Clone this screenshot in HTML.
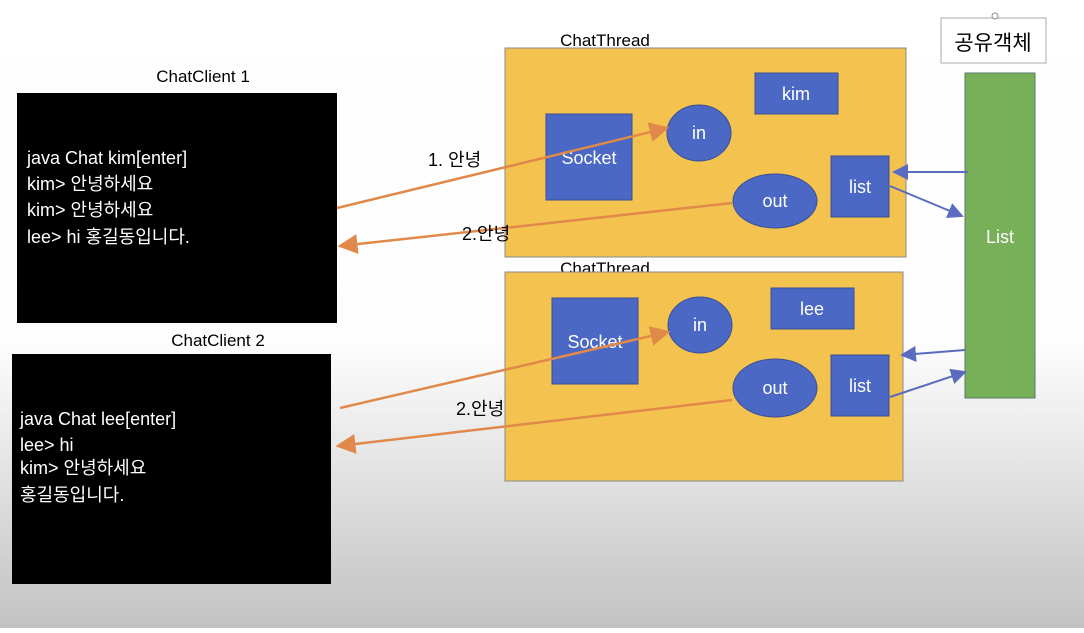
<!DOCTYPE html>
<html><head><meta charset="utf-8"><style>
body{margin:0;width:1084px;height:628px;overflow:hidden}
text{font-family:"Liberation Sans","Noto Sans CJK KR",sans-serif}
</style></head><body>
<svg width="1084" height="628" viewBox="0 0 1084 628">
<defs>
<linearGradient id="bg" x1="0" y1="0" x2="0" y2="1">
<stop offset="0" stop-color="#ffffff"/><stop offset="0.55" stop-color="#fdfdfd"/><stop offset="1" stop-color="#c2c2c2"/></linearGradient>
<marker id="ao" markerWidth="8" markerHeight="8" refX="7" refY="4" orient="auto"><path d="M0,0 L8,4 L0,8 Z" fill="#e0894a"/></marker>
<marker id="ab" markerWidth="8" markerHeight="8" refX="7" refY="4" orient="auto"><path d="M0,0 L8,4 L0,8 Z" fill="#5b6bbf"/></marker>
</defs>
<rect width="1084" height="628" fill="url(#bg)"/>

<g>
<text x="203" y="82" font-size="17" text-anchor="middle" fill="#000">ChatClient 1</text>
<rect x="17" y="93" width="320" height="230" fill="#000"/>
<g fill="#fff" font-size="18">
<text x="27" y="164">java Chat kim[enter]</text>
<text x="27" y="190">kim&gt; 안녕하세요</text>
<text x="27" y="216">kim&gt; 안녕하세요</text>
<text x="27" y="243">lee&gt; hi 홍길동입니다.</text>
</g></g>

<g>
<text x="218" y="346" font-size="17" text-anchor="middle" fill="#000">ChatClient 2</text>
<rect x="12" y="354" width="319" height="230" fill="#000"/>
<g fill="#fff" font-size="18">
<text x="20" y="425">java Chat lee[enter]</text>
<text x="20" y="451">lee&gt; hi</text>
<text x="20" y="474">kim&gt; 안녕하세요</text>
<text x="20" y="501">홍길동입니다.</text>
</g></g>

<g>
<text x="605" y="46" font-size="17" text-anchor="middle">ChatThread</text>
<rect x="505" y="48" width="401" height="209" fill="#f4c24f" stroke="#8a8a8a"/>
<rect x="546" y="114" width="86" height="86" fill="#4a68c4" stroke="#3a4f95"/>
<text x="589" y="164" font-size="18" fill="#fff" text-anchor="middle">Socket</text>
<ellipse cx="699" cy="133" rx="32" ry="28" fill="#4a68c4" stroke="#3a4f95"/>
<text x="699" y="139" font-size="18" fill="#fff" text-anchor="middle">in</text>
<rect x="755" y="73" width="83" height="41" fill="#4a68c4" stroke="#3a4f95"/>
<text x="796" y="100" font-size="18" fill="#fff" text-anchor="middle">kim</text>
<ellipse cx="775" cy="201" rx="42" ry="27" fill="#4a68c4" stroke="#3a4f95"/>
<text x="775" y="207" font-size="18" fill="#fff" text-anchor="middle">out</text>
<rect x="831" y="156" width="58" height="61" fill="#4a68c4" stroke="#3a4f95"/>
<text x="860" y="193" font-size="18" fill="#fff" text-anchor="middle">list</text>
</g>

<g>
<text x="605" y="274" font-size="17" text-anchor="middle">ChatThread</text>
<rect x="505" y="272" width="398" height="209" fill="#f4c24f" stroke="#8a8a8a"/>
<rect x="552" y="298" width="86" height="86" fill="#4a68c4" stroke="#3a4f95"/>
<text x="595" y="348" font-size="18" fill="#fff" text-anchor="middle">Socket</text>
<ellipse cx="700" cy="325" rx="32" ry="28" fill="#4a68c4" stroke="#3a4f95"/>
<text x="700" y="331" font-size="18" fill="#fff" text-anchor="middle">in</text>
<rect x="771" y="288" width="83" height="41" fill="#4a68c4" stroke="#3a4f95"/>
<text x="812" y="315" font-size="18" fill="#fff" text-anchor="middle">lee</text>
<ellipse cx="775" cy="388" rx="42" ry="29" fill="#4a68c4" stroke="#3a4f95"/>
<text x="775" y="394" font-size="18" fill="#fff" text-anchor="middle">out</text>
<rect x="831" y="355" width="58" height="61" fill="#4a68c4" stroke="#3a4f95"/>
<text x="860" y="392" font-size="18" fill="#fff" text-anchor="middle">list</text>
</g>

<g>
<rect x="941" y="18" width="105" height="45" fill="#fff" stroke="#aaa" stroke-width="1"/>
<circle cx="995" cy="16" r="3" fill="#fff" stroke="#888"/>
<text x="993" y="50" font-size="21" text-anchor="middle">공유객체</text>
<rect x="965" y="73" width="70" height="325" fill="#78b05a" stroke="#5a7a6a"/>
<text x="1000" y="243" font-size="18" fill="#fff" text-anchor="middle">List</text>
</g>

<g stroke="#e0894a" stroke-width="2.5" fill="none">
<line x1="337" y1="208" x2="667" y2="128" marker-end="url(#ao)"/>
<line x1="732" y1="203" x2="340" y2="246" marker-end="url(#ao)"/>
<line x1="340" y1="408" x2="668" y2="332" marker-end="url(#ao)"/>
<line x1="732" y1="400" x2="338" y2="446" marker-end="url(#ao)"/>
</g>
<g font-size="18" fill="#000">
<text x="428" y="166">1. 안녕</text>
<text x="462" y="240">2.안녕</text>
<text x="456" y="415">2.안녕</text>
</g>
<g stroke="#5b6bbf" stroke-width="2" fill="none">
<line x1="968" y1="172" x2="894" y2="172" marker-end="url(#ab)"/>
<line x1="890" y1="186" x2="962" y2="216" marker-end="url(#ab)"/>
<line x1="965" y1="350" x2="902" y2="355" marker-end="url(#ab)"/>
<line x1="890" y1="397" x2="965" y2="372" marker-end="url(#ab)"/>
</g>
</svg>
</body></html>
